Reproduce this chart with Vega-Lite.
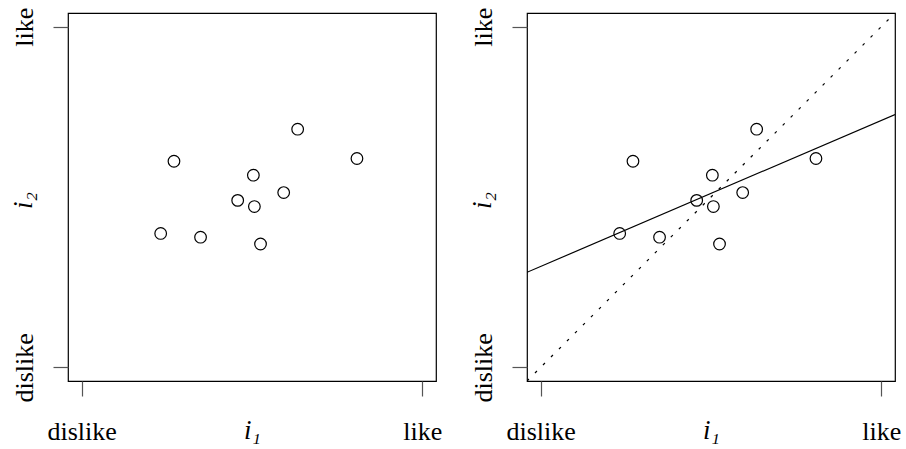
{
  "$schema": "https://vega.github.io/schema/vega-lite/v6.json",
  "padding": {"left": 8, "top": 6, "right": 0, "bottom": 0},
  "background": "white",
  "datasets": {
    "pts": [
      {"i1": 0.634, "i2": 0.699},
      {"i1": 0.271, "i2": 0.605},
      {"i1": 0.808, "i2": 0.613},
      {"i1": 0.504, "i2": 0.564},
      {"i1": 0.593, "i2": 0.513},
      {"i1": 0.458, "i2": 0.490},
      {"i1": 0.507, "i2": 0.472},
      {"i1": 0.232, "i2": 0.393},
      {"i1": 0.349, "i2": 0.382},
      {"i1": 0.525, "i2": 0.362}
    ],
    "fit": [
      {"i1": -0.04, "i2": 0.279},
      {"i1": 1.04, "i2": 0.742}
    ],
    "diag": [
      {"i1": -0.04, "i2": -0.04},
      {"i1": 1.04, "i2": 1.04}
    ]
  },
  "config": {
    "font": "'Liberation Serif', 'DejaVu Serif', serif",
    "view": {"stroke": "black", "strokeWidth": 1.2},
    "axis": {
      "grid": false,
      "domain": false,
      "ticks": true,
      "tickSize": 15,
      "tickColor": "#555",
      "tickWidth": 1.2,
      "labelFont": "'Liberation Serif', 'DejaVu Serif', serif",
      "labelFontSize": 26,
      "labelColor": "black",
      "labelOverlap": false,
      "labelFlush": false,
      "labelBound": false,
      "titleFont": "'Liberation Serif', 'DejaVu Serif', serif",
      "titleFontSize": 27,
      "titleFontWeight": "normal",
      "titleFontStyle": "italic",
      "titleColor": "black"
    },
    "axisX": {
      "labelBaseline": "alphabetic",
      "labelAlign": "center",
      "labelPadding": 43,
      "titleBaseline": "alphabetic",
      "titleAlign": "center",
      "titleX": 184,
      "titleY": 57
    },
    "axisY": {
      "labelAngle": -90,
      "labelBaseline": "alphabetic",
      "labelAlign": "center",
      "labelPadding": 21,
      "titleAngle": -90,
      "titleBaseline": "alphabetic",
      "titleAlign": "center",
      "titleX": -37,
      "titleY": 187
    },
    "concat": {"spacing": 24}
  },
  "hconcat": [
    {
      "width": 368,
      "height": 368,
      "data": {"name": "pts"},
      "mark": {"type": "point", "shape": "circle", "filled": false, "size": 135, "stroke": "black", "strokeWidth": 1.2, "opacity": 1},
      "encoding": {
        "x": {"field": "i1", "type": "quantitative", "scale": {"domain": [-0.04, 1.04], "nice": false, "zero": false},
              "axis": {"title": "i₁", "values": [0, 1], "labelExpr": "datum.value == 0 ? 'dislike' : 'like'"}},
        "y": {"field": "i2", "type": "quantitative", "scale": {"domain": [-0.04, 1.04], "nice": false, "zero": false},
              "axis": {"title": "i₂", "values": [0, 1], "labelExpr": "datum.value == 0 ? 'dislike' : 'like'"}}
      }
    },
    {
      "width": 368,
      "height": 368,
      "layer": [
        {
          "data": {"name": "diag"},
          "mark": {"type": "line", "color": "black", "strokeWidth": 1.2, "strokeDash": [2.8, 8.5], "clip": true},
          "encoding": {
            "x": {"field": "i1", "type": "quantitative"},
            "y": {"field": "i2", "type": "quantitative"}
          }
        },
        {
          "data": {"name": "fit"},
          "mark": {"type": "line", "color": "black", "strokeWidth": 1.2, "clip": true},
          "encoding": {
            "x": {"field": "i1", "type": "quantitative"},
            "y": {"field": "i2", "type": "quantitative"}
          }
        },
        {
          "data": {"name": "pts"},
          "mark": {"type": "point", "shape": "circle", "filled": false, "size": 135, "stroke": "black", "strokeWidth": 1.2, "opacity": 1},
          "encoding": {
            "x": {"field": "i1", "type": "quantitative"},
            "y": {"field": "i2", "type": "quantitative"}
          }
        }
      ],
      "encoding": {
        "x": {"field": "i1", "type": "quantitative", "scale": {"domain": [-0.04, 1.04], "nice": false, "zero": false},
              "axis": {"title": "i₁", "values": [0, 1], "labelExpr": "datum.value == 0 ? 'dislike' : 'like'"}},
        "y": {"field": "i2", "type": "quantitative", "scale": {"domain": [-0.04, 1.04], "nice": false, "zero": false},
              "axis": {"title": "i₂", "values": [0, 1], "labelExpr": "datum.value == 0 ? 'dislike' : 'like'"}}
      }
    }
  ]
}
